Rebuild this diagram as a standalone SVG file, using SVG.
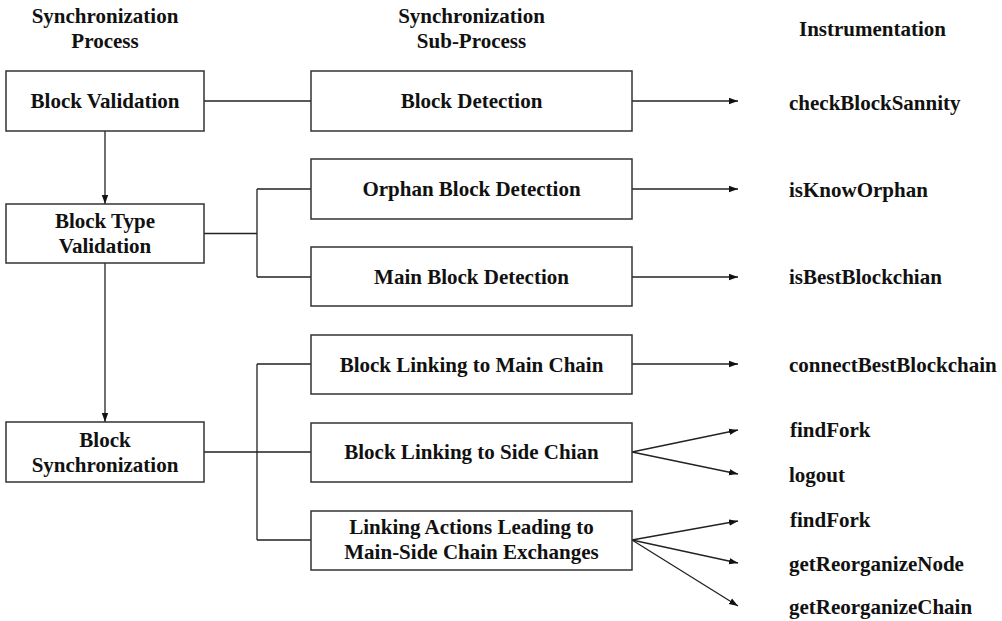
<svg xmlns="http://www.w3.org/2000/svg" width="1002" height="621" viewBox="0 0 1002 621">
  <style>
    text { font-family: "Liberation Serif", "Times New Roman", serif; font-weight: bold; font-size: 21px; fill: #111; }
    .mid { text-anchor: middle; }
    .box { fill: #fff; stroke: #333; stroke-width: 1.5; }
    .wire { fill: none; stroke: #222; stroke-width: 1.3; }
  </style>
  <defs>
    <marker id="head" markerUnits="userSpaceOnUse" markerWidth="10" markerHeight="8" refX="9" refY="4" orient="auto">
      <path d="M0,0.8 L9,4 L0,7.2 Z" fill="#111"/>
    </marker>
  </defs>
  <rect width="1002" height="621" fill="#fff"/>

  <!-- column headings -->
  <g id="headings">
    <text class="mid" x="105" y="23">Synchronization</text>
    <text class="mid" x="105" y="48">Process</text>
    <text class="mid" x="471.5" y="23">Synchronization</text>
    <text class="mid" x="471.5" y="48">Sub-Process</text>
    <text class="mid" x="872.5" y="36">Instrumentation</text>
  </g>

  <!-- connectors -->
  <g id="connectors">
    <path class="wire" d="M204,101 H311"/>
    <path class="wire" d="M105,131 V204" marker-end="url(#head)"/>
    <path class="wire" d="M105,263 V422" marker-end="url(#head)"/>
    <path class="wire" d="M204,233.5 H257 M257,189 V277 M257,189 H311 M257,277 H311"/>
    <path class="wire" d="M204,452 H311 M257,364 V540 M257,364 H311 M257,540 H311"/>
    <path class="wire" d="M632,101 H738" marker-end="url(#head)"/>
    <path class="wire" d="M632,189 H738" marker-end="url(#head)"/>
    <path class="wire" d="M632,277 H738" marker-end="url(#head)"/>
    <path class="wire" d="M632,364 H738" marker-end="url(#head)"/>
    <path class="wire" d="M632,452 L738,430" marker-end="url(#head)"/>
    <path class="wire" d="M632,452 L738,474" marker-end="url(#head)"/>
    <path class="wire" d="M632,540 L738,521" marker-end="url(#head)"/>
    <path class="wire" d="M632,540 L738,563" marker-end="url(#head)"/>
    <path class="wire" d="M632,540 L738,606" marker-end="url(#head)"/>
  </g>

  <!-- process column -->
  <g id="block-validation">
    <rect class="box" x="6" y="71" width="198" height="60"/>
    <text class="mid" x="105" y="108">Block Validation</text>
  </g>
  <g id="block-type-validation">
    <rect class="box" x="6" y="204" width="198" height="59"/>
    <text class="mid" x="105" y="228">Block Type</text>
    <text class="mid" x="105" y="253">Validation</text>
  </g>
  <g id="block-synchronization">
    <rect class="box" x="6" y="422" width="198" height="60"/>
    <text class="mid" x="105" y="447">Block</text>
    <text class="mid" x="105" y="472">Synchronization</text>
  </g>

  <!-- sub-process column -->
  <g id="block-detection">
    <rect class="box" x="311" y="71" width="321" height="60"/>
    <text class="mid" x="471.5" y="108">Block Detection</text>
  </g>
  <g id="orphan-block-detection">
    <rect class="box" x="311" y="159" width="321" height="60"/>
    <text class="mid" x="471.5" y="196">Orphan Block Detection</text>
  </g>
  <g id="main-block-detection">
    <rect class="box" x="311" y="247" width="321" height="59"/>
    <text class="mid" x="471.5" y="284">Main Block Detection</text>
  </g>
  <g id="link-main-chain">
    <rect class="box" x="311" y="335" width="321" height="59"/>
    <text class="mid" x="471.5" y="372">Block Linking to Main Chain</text>
  </g>
  <g id="link-side-chain">
    <rect class="box" x="311" y="423" width="321" height="59"/>
    <text class="mid" x="471.5" y="459">Block Linking to Side Chian</text>
  </g>
  <g id="chain-exchange">
    <rect class="box" x="311" y="511" width="321" height="59"/>
    <text class="mid" x="471.5" y="534">Linking Actions Leading to</text>
    <text class="mid" x="471.5" y="559">Main-Side Chain Exchanges</text>
  </g>

  <!-- instrumentation column -->
  <g id="instrumentation">
    <text x="789" y="110">checkBlockSannity</text>
    <text x="789" y="197">isKnowOrphan</text>
    <text x="789" y="284">isBestBlockchian</text>
    <text x="789" y="372">connectBestBlockchain</text>
    <text x="790" y="437">findFork</text>
    <text x="789" y="482">logout</text>
    <text x="790" y="527">findFork</text>
    <text x="789" y="571">getReorganizeNode</text>
    <text x="789" y="614">getReorganizeChain</text>
  </g>
</svg>
